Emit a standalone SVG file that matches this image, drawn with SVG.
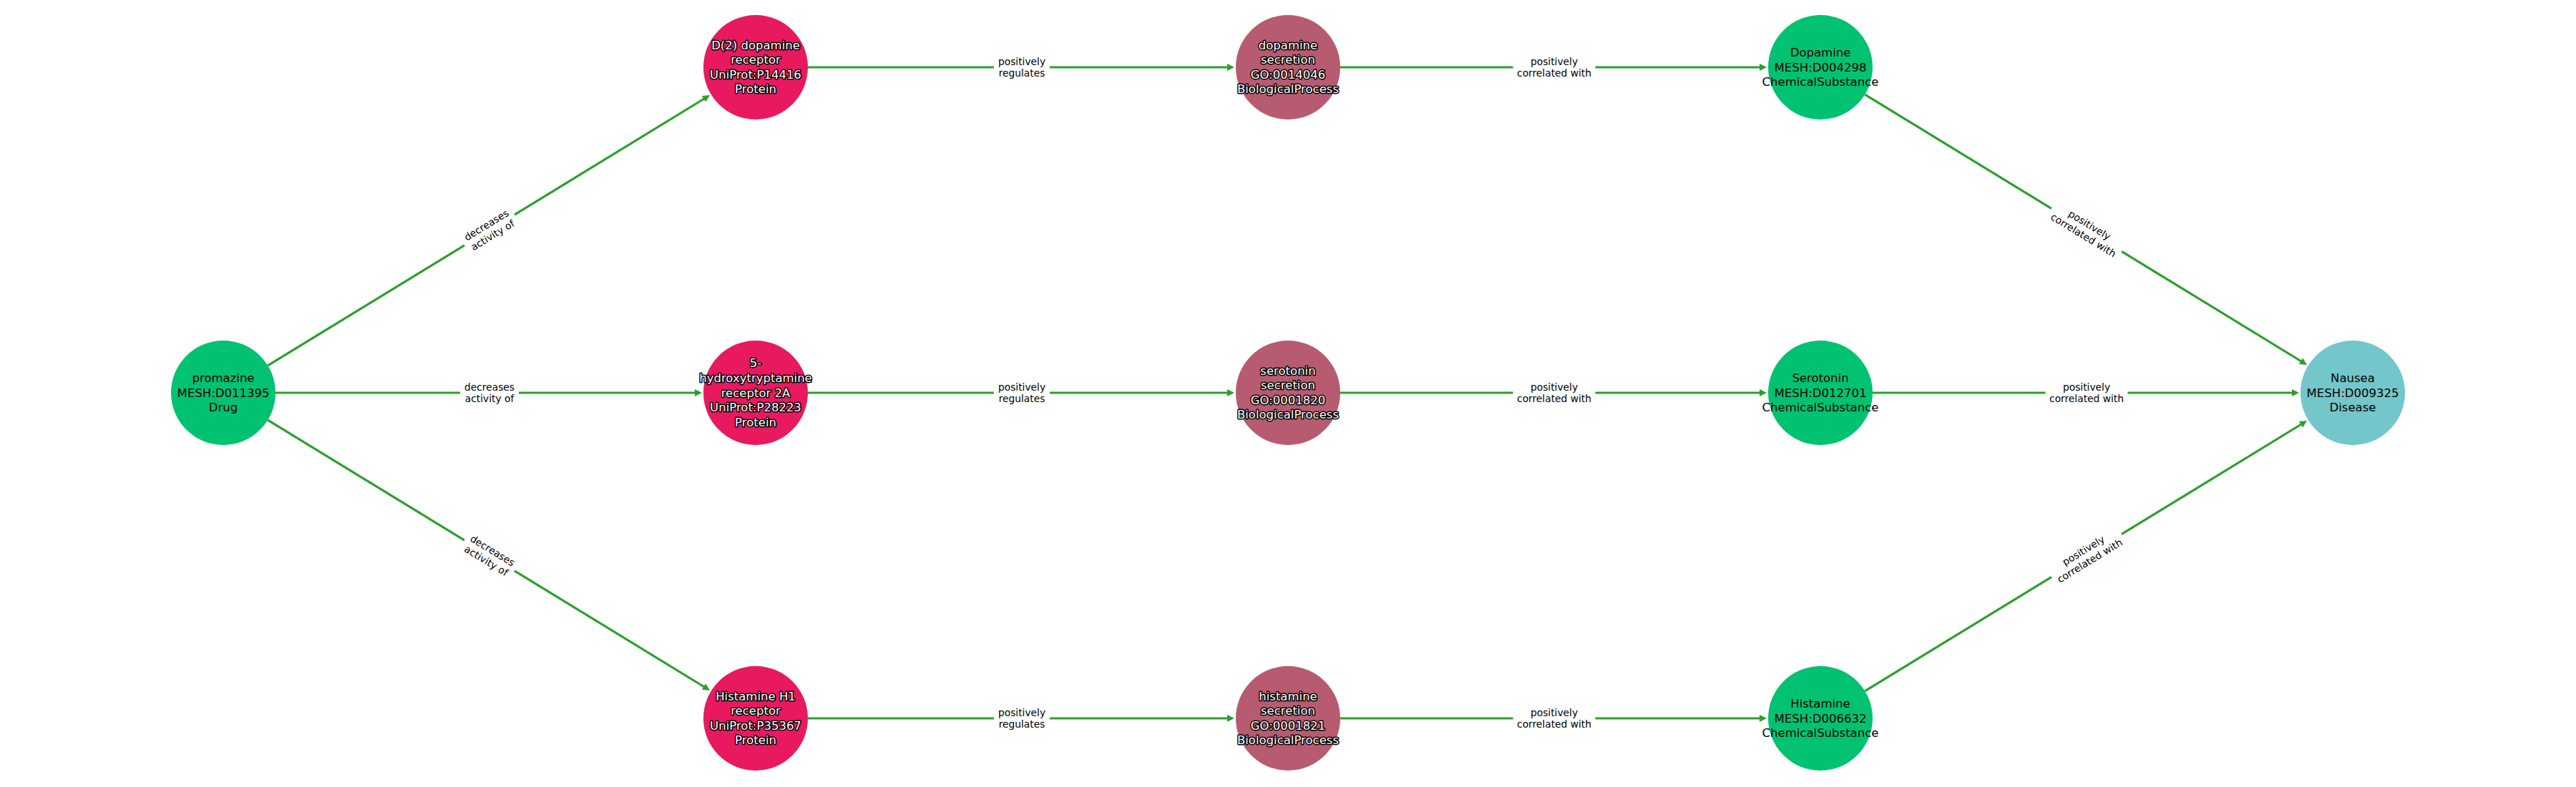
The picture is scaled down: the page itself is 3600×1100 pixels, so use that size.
<svg xmlns="http://www.w3.org/2000/svg" width="3600" height="1100" viewBox="0 0 3600 1100">
<style>
.bg{fill:#ffffff}
.edge{stroke:#2ca02c;stroke-width:3.2;fill:none;marker-end:url(#arr)}
.lbox{fill:#ffffff;stroke:none}
.elab{font-family:"DejaVu Sans","Liberation Sans",sans-serif;font-size:13.8px;fill:#000000;text-anchor:middle;dominant-baseline:central}
.nlab{font-family:"DejaVu Sans","Liberation Sans",sans-serif;font-size:16.5px;text-anchor:middle;dominant-baseline:central}
.dark{fill:#ffffff;stroke:#000000;stroke-width:3;paint-order:stroke;stroke-linejoin:round}
.light{fill:#000000}
.drug,.chem{fill:#00c270}
.prot{fill:#e8195f}
.bio{fill:#b75b70}
.dis{fill:#73c6c9}
</style>
<defs>
<marker id="arr" markerUnits="userSpaceOnUse" markerWidth="13" markerHeight="11" refX="3.5" refY="5" orient="auto">
<path d="M0,0 L10,5 L0,10 z" fill="#2ca02c"/>
</marker>
</defs>
<rect class="bg" x="0" y="0" width="3600" height="1100"/>
<g id="connectors">
<line class="edge" x1="374.3" y1="510.9" x2="986.5" y2="136.5"/>
<line class="edge" x1="385" y1="549" x2="974.5" y2="549"/>
<line class="edge" x1="374.3" y1="587.1" x2="986.5" y2="961.5"/>
<line class="edge" x1="1129" y1="94" x2="1718.5" y2="94"/>
<line class="edge" x1="1129" y1="549" x2="1718.5" y2="549"/>
<line class="edge" x1="1129" y1="1004" x2="1718.5" y2="1004"/>
<line class="edge" x1="1873" y1="94" x2="2462.5" y2="94"/>
<line class="edge" x1="1873" y1="549" x2="2462.5" y2="549"/>
<line class="edge" x1="1873" y1="1004" x2="2462.5" y2="1004"/>
<line class="edge" x1="2606.3" y1="132.1" x2="3218.5" y2="506.5"/>
<line class="edge" x1="2617" y1="549" x2="3206.5" y2="549"/>
<line class="edge" x1="2606.3" y1="965.9" x2="3218.5" y2="591.5"/>
<g transform="translate(684,321.5) rotate(-31.45)"><rect class="lbox" x="-41" y="-21" width="82" height="42"/><text class="elab" y="-8.35">decreases</text><text class="elab" y="8.35">activity of</text></g>
<g transform="translate(684,549)"><rect class="lbox" x="-41" y="-21" width="82" height="42"/><text class="elab" y="-8.35">decreases</text><text class="elab" y="8.35">activity of</text></g>
<g transform="translate(684,776.5) rotate(31.45)"><rect class="lbox" x="-41" y="-21" width="82" height="42"/><text class="elab" y="-8.35">decreases</text><text class="elab" y="8.35">activity of</text></g>
<g transform="translate(1428,94)"><rect class="lbox" x="-39" y="-21" width="78" height="42"/><text class="elab" y="-8.35">positively</text><text class="elab" y="8.35">regulates</text></g>
<g transform="translate(1428,549)"><rect class="lbox" x="-39" y="-21" width="78" height="42"/><text class="elab" y="-8.35">positively</text><text class="elab" y="8.35">regulates</text></g>
<g transform="translate(1428,1004)"><rect class="lbox" x="-39" y="-21" width="78" height="42"/><text class="elab" y="-8.35">positively</text><text class="elab" y="8.35">regulates</text></g>
<g transform="translate(2172,94)"><rect class="lbox" x="-57.5" y="-21" width="115" height="42"/><text class="elab" y="-8.35">positively</text><text class="elab" y="8.35">correlated with</text></g>
<g transform="translate(2172,549)"><rect class="lbox" x="-57.5" y="-21" width="115" height="42"/><text class="elab" y="-8.35">positively</text><text class="elab" y="8.35">correlated with</text></g>
<g transform="translate(2172,1004)"><rect class="lbox" x="-57.5" y="-21" width="115" height="42"/><text class="elab" y="-8.35">positively</text><text class="elab" y="8.35">correlated with</text></g>
<g transform="translate(2916,321.5) rotate(31.45)"><rect class="lbox" x="-57.5" y="-21" width="115" height="42"/><text class="elab" y="-8.35">positively</text><text class="elab" y="8.35">correlated with</text></g>
<g transform="translate(2916,549)"><rect class="lbox" x="-57.5" y="-21" width="115" height="42"/><text class="elab" y="-8.35">positively</text><text class="elab" y="8.35">correlated with</text></g>
<g transform="translate(2916,776.5) rotate(-31.45)"><rect class="lbox" x="-57.5" y="-21" width="115" height="42"/><text class="elab" y="-8.35">positively</text><text class="elab" y="8.35">correlated with</text></g>
</g>
<g id="promazine"><circle class="drug" cx="312" cy="549" r="73"/><text class="nlab light" x="312" y="528.4">promazine</text><text class="nlab light" x="312" y="549">MESH:D011395</text><text class="nlab light" x="312" y="569.6">Drug</text></g>
<g id="d2receptor"><circle class="prot" cx="1056" cy="94" r="73"/><text class="nlab dark" x="1056" y="63.1">D(2) dopamine</text><text class="nlab dark" x="1056" y="83.7">receptor</text><text class="nlab dark" x="1056" y="104.3">UniProt:P14416</text><text class="nlab dark" x="1056" y="124.9">Protein</text></g>
<g id="ht2areceptor"><circle class="prot" cx="1056" cy="549" r="73"/><text class="nlab dark" x="1056" y="507.8">5-</text><text class="nlab dark" x="1056" y="528.4">hydroxytryptamine</text><text class="nlab dark" x="1056" y="549">receptor 2A</text><text class="nlab dark" x="1056" y="569.6">UniProt:P28223</text><text class="nlab dark" x="1056" y="590.2">Protein</text></g>
<g id="h1receptor"><circle class="prot" cx="1056" cy="1004" r="73"/><text class="nlab dark" x="1056" y="973.1">Histamine H1</text><text class="nlab dark" x="1056" y="993.7">receptor</text><text class="nlab dark" x="1056" y="1014.3">UniProt:P35367</text><text class="nlab dark" x="1056" y="1034.9">Protein</text></g>
<g id="dopaminesecretion"><circle class="bio" cx="1800" cy="94" r="73"/><text class="nlab dark" x="1800" y="63.1">dopamine</text><text class="nlab dark" x="1800" y="83.7">secretion</text><text class="nlab dark" x="1800" y="104.3">GO:0014046</text><text class="nlab dark" x="1800" y="124.9">BiologicalProcess</text></g>
<g id="serotoninsecretion"><circle class="bio" cx="1800" cy="549" r="73"/><text class="nlab dark" x="1800" y="518.1">serotonin</text><text class="nlab dark" x="1800" y="538.7">secretion</text><text class="nlab dark" x="1800" y="559.3">GO:0001820</text><text class="nlab dark" x="1800" y="579.9">BiologicalProcess</text></g>
<g id="histaminesecretion"><circle class="bio" cx="1800" cy="1004" r="73"/><text class="nlab dark" x="1800" y="973.1">histamine</text><text class="nlab dark" x="1800" y="993.7">secretion</text><text class="nlab dark" x="1800" y="1014.3">GO:0001821</text><text class="nlab dark" x="1800" y="1034.9">BiologicalProcess</text></g>
<g id="dopamine"><circle class="chem" cx="2544" cy="94" r="73"/><text class="nlab light" x="2544" y="73.4">Dopamine</text><text class="nlab light" x="2544" y="94">MESH:D004298</text><text class="nlab light" x="2544" y="114.6">ChemicalSubstance</text></g>
<g id="serotonin"><circle class="chem" cx="2544" cy="549" r="73"/><text class="nlab light" x="2544" y="528.4">Serotonin</text><text class="nlab light" x="2544" y="549">MESH:D012701</text><text class="nlab light" x="2544" y="569.6">ChemicalSubstance</text></g>
<g id="histamine"><circle class="chem" cx="2544" cy="1004" r="73"/><text class="nlab light" x="2544" y="983.4">Histamine</text><text class="nlab light" x="2544" y="1004">MESH:D006632</text><text class="nlab light" x="2544" y="1024.6">ChemicalSubstance</text></g>
<g id="nausea"><circle class="dis" cx="3288" cy="549" r="73"/><text class="nlab light" x="3288" y="528.4">Nausea</text><text class="nlab light" x="3288" y="549">MESH:D009325</text><text class="nlab light" x="3288" y="569.6">Disease</text></g>
</svg>
